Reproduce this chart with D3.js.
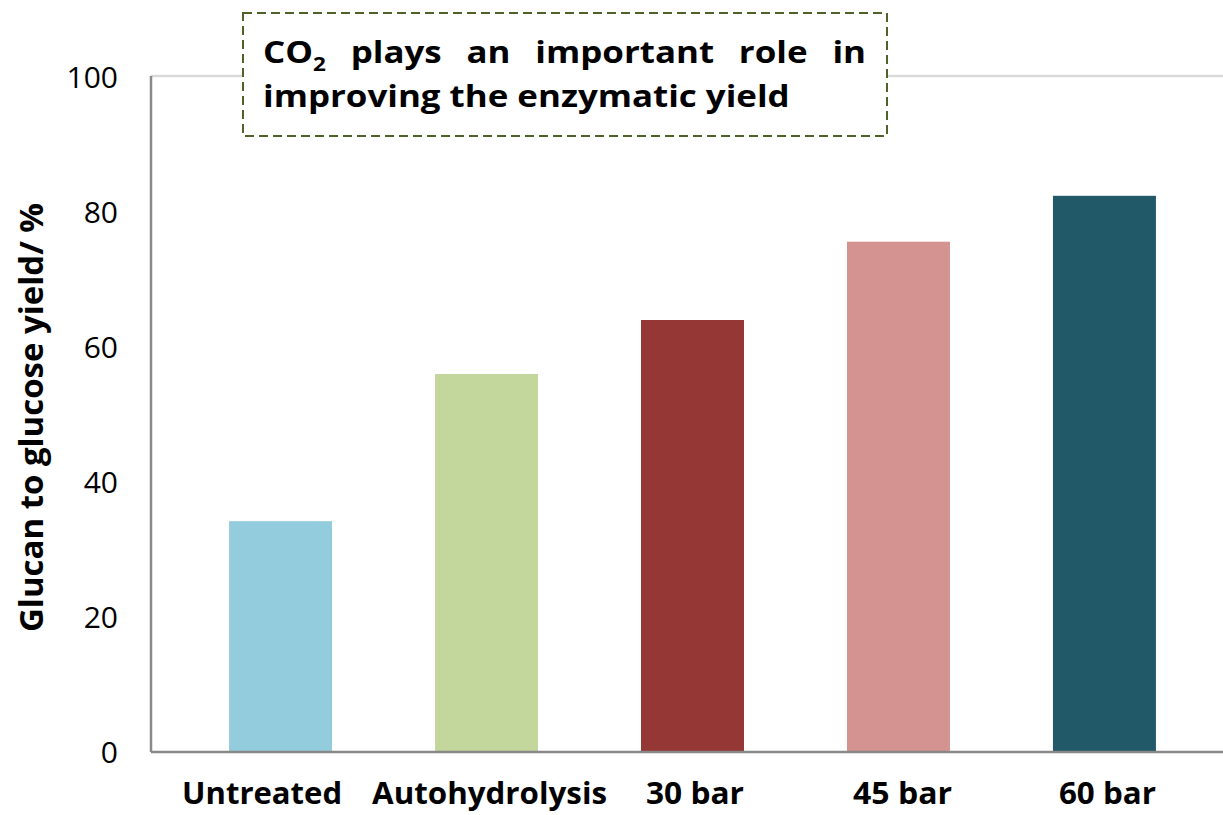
<!DOCTYPE html>
<html>
<head>
<meta charset="utf-8">
<script src="https://cdn.jsdelivr.net/npm/d3@7"></script>
<style>
  body { margin: 0; background: #fff; }
  svg { display: block; font-family: "Open Sans", sans-serif; }
</style>
</head>
<body>
<div id="chart"></div>
<script>
const categories = ['Untreated', 'Autohydrolysis', '30 bar', '45 bar', '60 bar'];
const yields = [34.2, 56.0, 64.0, 75.6, 82.4];
const barColors = ['#93cddd', '#c3d69b', '#953735', '#d49391', '#215968'];
const yTicks = [0, 20, 40, 60, 80, 100];
const labelWidths = [160, 235, 98, 99, 97];
const labelShift = [-18.5, 3, 2.5, 4, 3];
const boxWords = ['plays', 'an', 'important', 'role', 'in'];

const width = 1223, height = 815;
const margin = { top: 77, right: 0, bottom: 63, left: 151 };

const svg = d3.select('#chart').append('svg')
  .attr('width', width)
  .attr('height', height);

const x = d3.scaleBand()
  .domain(categories)
  .range([margin.left, 1234])
  .paddingInner(0.5)
  .paddingOuter(0.379);

const y = d3.scaleLinear()
  .domain([0, 100])
  .range([height - margin.bottom, margin.top]);

// light gridline at 100
svg.append('line')
  .attr('x1', margin.left).attr('x2', width)
  .attr('y1', y(100) - 1).attr('y2', y(100) - 1)
  .attr('stroke', '#d9d9d9').attr('stroke-width', 2.5);

// bars
svg.append('g').selectAll('rect')
  .data(categories)
  .join('rect')
    .attr('x', d => x(d))
    .attr('y', (d, i) => y(yields[i]))
    .attr('width', x.bandwidth())
    .attr('height', (d, i) => y(0) - y(yields[i]))
    .attr('fill', (d, i) => barColors[i]);

// y axis
const yAxis = svg.append('g')
  .attr('transform', `translate(${margin.left},0)`)
  .call(d3.axisLeft(y).tickValues(yTicks).tickSize(0).tickPadding(33));
yAxis.select('.domain').attr('stroke', '#888').attr('stroke-width', 2.5)
  .attr('d', `M0,${y(100) - 1}V${y(0)}`);
yAxis.selectAll('text')
  .style('font-family', '"Open Sans", sans-serif')
  .style('font-size', '30px')
  .attr('dy', '0.36em')
  .attr('fill', '#000');

// x axis
const xAxis = svg.append('g')
  .attr('transform', `translate(0,${y(0)})`)
  .call(d3.axisBottom(x).tickSize(0).tickPadding(0));
xAxis.select('.domain').attr('stroke', '#888').attr('stroke-width', 2.5)
  .attr('d', `M${margin.left},0H${width}`);
xAxis.selectAll('text')
  .style('font-family', '"Open Sans", sans-serif')
  .style('font-size', '30px')
  .style('font-weight', 'bold')
  .attr('fill', '#000')
  .attr('y', 52)
  .attr('dy', null)
  .attr('dx', (d, i) => labelShift[i])
  .attr('textLength', (d, i) => labelWidths[i])
  .attr('lengthAdjust', 'spacingAndGlyphs');

// y axis title
svg.append('text')
  .attr('transform', `translate(43,417.5) rotate(-90)`)
  .attr('text-anchor', 'middle')
  .style('font-size', '32px')
  .style('font-weight', 'bold')
  .attr('textLength', 429)
  .attr('lengthAdjust', 'spacingAndGlyphs')
  .text('Glucan to glucose yield/ %');

// annotation box
const box = svg.append('g');
box.append('rect')
  .attr('x', 243).attr('y', 13)
  .attr('width', 644).attr('height', 123)
  .attr('fill', '#fff')
  .attr('stroke', '#4f6228')
  .attr('stroke-width', 2)
  .attr('stroke-dasharray', '9 5');

const boxText = box.append('g')
  .style('font-size', '29.5px')
  .style('font-weight', 'bold');

const line2 = boxText.append('text')
  .attr('x', 0).attr('y', 107)
  .text('improving the enzymatic yield');
const sx = 527 / line2.node().getComputedTextLength();
boxText.attr('transform', `translate(263,0) scale(${sx},1)`);

// first line, justified like the original text box
const lineWidth = 603 / sx;
const co2 = boxText.append('text').attr('x', 0).attr('y', 63);
co2.append('tspan').text('CO');
co2.append('tspan').attr('dy', 8).style('font-size', '19px').text('2');
const wordNodes = boxWords.map(w => boxText.append('text').attr('y', 63).text(w));
const widths = [co2.node().getComputedTextLength()]
  .concat(wordNodes.map(t => t.node().getComputedTextLength()));
const gap = (lineWidth - d3.sum(widths)) / (widths.length - 1);
let pos = widths[0] + gap;
wordNodes.forEach((t, i) => {
  t.attr('x', pos);
  pos += widths[i + 1] + gap;
});
</script>
</body>
</html>
